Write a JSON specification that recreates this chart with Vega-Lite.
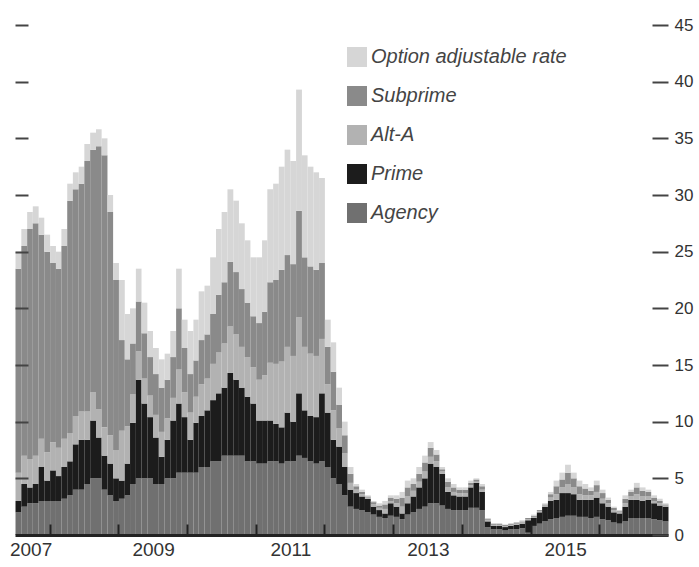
{
 "$schema": "https://vega.github.io/schema/vega-lite/v6.json",
 "width": 653, "height": 510,
 "autosize": {"type": "none"},
 "padding": {"left": 15, "top": 25, "right": 31, "bottom": 32},
 "background": "white",
 "config": {"view": {"stroke": null}, "font": "Liberation Sans"},
 "data": {"values": [
  {"date":"2007-07-01","Agency":2,"Prime":1,"Alt-A":2.5,"Subprime":18,"Option adjustable rate":1.5},
  {"date":"2007-08-01","Agency":2.5,"Prime":2,"Alt-A":2.5,"Subprime":18.5,"Option adjustable rate":1.5},
  {"date":"2007-09-01","Agency":2.8,"Prime":1.4,"Alt-A":2.5,"Subprime":20.3,"Option adjustable rate":1.5},
  {"date":"2007-10-01","Agency":2.8,"Prime":1.7,"Alt-A":2.5,"Subprime":20.5,"Option adjustable rate":1.5},
  {"date":"2007-11-01","Agency":3,"Prime":3,"Alt-A":2.5,"Subprime":18,"Option adjustable rate":1.5},
  {"date":"2007-12-01","Agency":3,"Prime":1.8,"Alt-A":2.5,"Subprime":17.7,"Option adjustable rate":1.5},
  {"date":"2008-01-01","Agency":3,"Prime":2.7,"Alt-A":2.5,"Subprime":15.8,"Option adjustable rate":1.5},
  {"date":"2008-02-01","Agency":3,"Prime":2.2,"Alt-A":2.5,"Subprime":15.8,"Option adjustable rate":1.5},
  {"date":"2008-03-01","Agency":3.2,"Prime":2.8,"Alt-A":2.5,"Subprime":17,"Option adjustable rate":1.5},
  {"date":"2008-04-01","Agency":3.5,"Prime":3,"Alt-A":2.5,"Subprime":20.5,"Option adjustable rate":1.5},
  {"date":"2008-05-01","Agency":4,"Prime":4,"Alt-A":2.5,"Subprime":20,"Option adjustable rate":1.5},
  {"date":"2008-06-01","Agency":4,"Prime":4.4,"Alt-A":2.5,"Subprime":20.1,"Option adjustable rate":1.5},
  {"date":"2008-07-01","Agency":4.5,"Prime":3.9,"Alt-A":2.5,"Subprime":22.1,"Option adjustable rate":1.5},
  {"date":"2008-08-01","Agency":5,"Prime":5.1,"Alt-A":2.5,"Subprime":21.4,"Option adjustable rate":1.5},
  {"date":"2008-09-01","Agency":5,"Prime":3.6,"Alt-A":2.5,"Subprime":23.2,"Option adjustable rate":1.5},
  {"date":"2008-10-01","Agency":4,"Prime":3,"Alt-A":2.5,"Subprime":24,"Option adjustable rate":1.5},
  {"date":"2008-11-01","Agency":3.5,"Prime":2.8,"Alt-A":2.5,"Subprime":19.7,"Option adjustable rate":1.5},
  {"date":"2008-12-01","Agency":3,"Prime":2,"Alt-A":2.5,"Subprime":15,"Option adjustable rate":1.5},
  {"date":"2009-01-01","Agency":3.2,"Prime":1.6,"Alt-A":4.4,"Subprime":8.0,"Option adjustable rate":5.3},
  {"date":"2009-02-01","Agency":3.5,"Prime":2.8,"Alt-A":3.3,"Subprime":5.9,"Option adjustable rate":4.0},
  {"date":"2009-03-01","Agency":4.5,"Prime":5.4,"Alt-A":2.5,"Subprime":4.5,"Option adjustable rate":3.1},
  {"date":"2009-04-01","Agency":5,"Prime":8.7,"Alt-A":2.5,"Subprime":4.4,"Option adjustable rate":2.9},
  {"date":"2009-05-01","Agency":5,"Prime":6.6,"Alt-A":2.2,"Subprime":4.0,"Option adjustable rate":2.7},
  {"date":"2009-06-01","Agency":5,"Prime":5.4,"Alt-A":1.9,"Subprime":3.4,"Option adjustable rate":2.3},
  {"date":"2009-07-01","Agency":4.5,"Prime":4.1,"Alt-A":2.0,"Subprime":3.6,"Option adjustable rate":2.3},
  {"date":"2009-08-01","Agency":4.5,"Prime":2.4,"Alt-A":2.2,"Subprime":3.9,"Option adjustable rate":2.5},
  {"date":"2009-09-01","Agency":5,"Prime":3.4,"Alt-A":1.9,"Subprime":3.4,"Option adjustable rate":2.3},
  {"date":"2009-10-01","Agency":5,"Prime":5.1,"Alt-A":2.0,"Subprime":3.6,"Option adjustable rate":2.3},
  {"date":"2009-11-01","Agency":5.5,"Prime":6.1,"Alt-A":3.0,"Subprime":5.4,"Option adjustable rate":3.5},
  {"date":"2009-12-01","Agency":5.5,"Prime":4.9,"Alt-A":2.2,"Subprime":3.9,"Option adjustable rate":2.5},
  {"date":"2010-01-01","Agency":5.5,"Prime":2.9,"Alt-A":2.4,"Subprime":3.4,"Option adjustable rate":3.8},
  {"date":"2010-02-01","Agency":5.5,"Prime":4.4,"Alt-A":2.3,"Subprime":3.2,"Option adjustable rate":3.6},
  {"date":"2010-03-01","Agency":6,"Prime":4.5,"Alt-A":2.8,"Subprime":3.9,"Option adjustable rate":4.3},
  {"date":"2010-04-01","Agency":6,"Prime":5,"Alt-A":2.8,"Subprime":3.9,"Option adjustable rate":4.3},
  {"date":"2010-05-01","Agency":6.5,"Prime":5.4,"Alt-A":3.2,"Subprime":4.4,"Option adjustable rate":5.0},
  {"date":"2010-06-01","Agency":6.5,"Prime":6,"Alt-A":3.6,"Subprime":5.1,"Option adjustable rate":5.8},
  {"date":"2010-07-01","Agency":7,"Prime":6,"Alt-A":3.9,"Subprime":5.4,"Option adjustable rate":6.2},
  {"date":"2010-08-01","Agency":7,"Prime":7.3,"Alt-A":4.1,"Subprime":5.7,"Option adjustable rate":6.4},
  {"date":"2010-09-01","Agency":7,"Prime":6.7,"Alt-A":4.0,"Subprime":5.5,"Option adjustable rate":6.3},
  {"date":"2010-10-01","Agency":7,"Prime":6,"Alt-A":3.6,"Subprime":5.1,"Option adjustable rate":5.8},
  {"date":"2010-11-01","Agency":6.5,"Prime":5.7,"Alt-A":3.5,"Subprime":4.8,"Option adjustable rate":5.5},
  {"date":"2010-12-01","Agency":6.5,"Prime":5.1,"Alt-A":3.2,"Subprime":4.5,"Option adjustable rate":5.2},
  {"date":"2011-01-01","Agency":6.3,"Prime":3.8,"Alt-A":3.6,"Subprime":5.0,"Option adjustable rate":5.8},
  {"date":"2011-02-01","Agency":6.3,"Prime":3.8,"Alt-A":4.0,"Subprime":5.6,"Option adjustable rate":6.3},
  {"date":"2011-03-01","Agency":6.5,"Prime":3.6,"Alt-A":5.1,"Subprime":7.1,"Option adjustable rate":8.2},
  {"date":"2011-04-01","Agency":6.5,"Prime":3.3,"Alt-A":5.3,"Subprime":7.4,"Option adjustable rate":8.5},
  {"date":"2011-05-01","Agency":6.3,"Prime":3.2,"Alt-A":5.8,"Subprime":8.1,"Option adjustable rate":9.1},
  {"date":"2011-06-01","Agency":6.5,"Prime":4.3,"Alt-A":5.8,"Subprime":8.1,"Option adjustable rate":9.3},
  {"date":"2011-07-01","Agency":6.5,"Prime":3.5,"Alt-A":5.8,"Subprime":8.1,"Option adjustable rate":9.1},
  {"date":"2011-08-01","Agency":7,"Prime":5.5,"Alt-A":6.7,"Subprime":9.4,"Option adjustable rate":10.7},
  {"date":"2011-09-01","Agency":6.8,"Prime":4.2,"Alt-A":5.6,"Subprime":7.9,"Option adjustable rate":9.0},
  {"date":"2011-10-01","Agency":6.5,"Prime":4,"Alt-A":5.5,"Subprime":7.7,"Option adjustable rate":8.8},
  {"date":"2011-11-01","Agency":6.3,"Prime":4.1,"Alt-A":5.4,"Subprime":7.6,"Option adjustable rate":8.6},
  {"date":"2011-12-01","Agency":6.5,"Prime":6,"Alt-A":4.8,"Subprime":6.7,"Option adjustable rate":7.5},
  {"date":"2012-01-01","Agency":6,"Prime":4.8,"Alt-A":2.5,"Subprime":3.3,"Option adjustable rate":2.4},
  {"date":"2012-02-01","Agency":5,"Prime":3.4,"Alt-A":2.6,"Subprime":3.4,"Option adjustable rate":2.6},
  {"date":"2012-03-01","Agency":4.5,"Prime":3.3,"Alt-A":1.6,"Subprime":2.1,"Option adjustable rate":1.5},
  {"date":"2012-04-01","Agency":3.5,"Prime":2.5,"Alt-A":1.2,"Subprime":1.6,"Option adjustable rate":1.2},
  {"date":"2012-05-01","Agency":2.5,"Prime":1.5,"Alt-A":0.6,"Subprime":0.8,"Option adjustable rate":0.6},
  {"date":"2012-06-01","Agency":2.3,"Prime":1.4,"Alt-A":0.3,"Subprime":0.3,"Option adjustable rate":0.2},
  {"date":"2012-07-01","Agency":2.2,"Prime":1.2,"Alt-A":0.2,"Subprime":0.2,"Option adjustable rate":0.2},
  {"date":"2012-08-01","Agency":2,"Prime":1.2,"Alt-A":0.1,"Subprime":0.1,"Option adjustable rate":0.1},
  {"date":"2012-09-01","Agency":1.8,"Prime":0.7,"Alt-A":0.2,"Subprime":0.2,"Option adjustable rate":0.1},
  {"date":"2012-10-01","Agency":1.6,"Prime":0.6,"Alt-A":0.2,"Subprime":0.2,"Option adjustable rate":0.2},
  {"date":"2012-11-01","Agency":1.5,"Prime":0.4,"Alt-A":0.4,"Subprime":0.4,"Option adjustable rate":0.3},
  {"date":"2012-12-01","Agency":1.7,"Prime":1.1,"Alt-A":0.2,"Subprime":0.3,"Option adjustable rate":0.2},
  {"date":"2013-01-01","Agency":1.6,"Prime":0.9,"Alt-A":0.3,"Subprime":0.4,"Option adjustable rate":0.3},
  {"date":"2013-02-01","Agency":1.4,"Prime":0.5,"Alt-A":0.6,"Subprime":0.8,"Option adjustable rate":0.5},
  {"date":"2013-03-01","Agency":1.8,"Prime":1.0,"Alt-A":0.6,"Subprime":0.8,"Option adjustable rate":0.6},
  {"date":"2013-04-01","Agency":2,"Prime":1.4,"Alt-A":0.5,"Subprime":0.6,"Option adjustable rate":0.5},
  {"date":"2013-05-01","Agency":2.3,"Prime":1.9,"Alt-A":0.5,"Subprime":0.7,"Option adjustable rate":0.6},
  {"date":"2013-06-01","Agency":2.5,"Prime":2.5,"Alt-A":0.6,"Subprime":0.8,"Option adjustable rate":0.6},
  {"date":"2013-07-01","Agency":2.8,"Prime":3.5,"Alt-A":0.6,"Subprime":0.8,"Option adjustable rate":0.5},
  {"date":"2013-08-01","Agency":2.8,"Prime":3.2,"Alt-A":0.5,"Subprime":0.6,"Option adjustable rate":0.4},
  {"date":"2013-09-01","Agency":2.6,"Prime":2.8,"Alt-A":0.2,"Subprime":0.2,"Option adjustable rate":0.2},
  {"date":"2013-10-01","Agency":2.3,"Prime":1.5,"Alt-A":0.4,"Subprime":0.5,"Option adjustable rate":0.3},
  {"date":"2013-11-01","Agency":2.2,"Prime":1.3,"Alt-A":0.3,"Subprime":0.4,"Option adjustable rate":0.3},
  {"date":"2013-12-01","Agency":2.2,"Prime":1.2,"Alt-A":0.3,"Subprime":0.3,"Option adjustable rate":0.2},
  {"date":"2014-01-01","Agency":2.2,"Prime":1.2,"Alt-A":0.3,"Subprime":0.3,"Option adjustable rate":0.2},
  {"date":"2014-02-01","Agency":2.4,"Prime":1.8,"Alt-A":0.2,"Subprime":0.2,"Option adjustable rate":0.2},
  {"date":"2014-03-01","Agency":2.4,"Prime":2.2,"Alt-A":0.1,"Subprime":0.2,"Option adjustable rate":0.1},
  {"date":"2014-04-01","Agency":2.2,"Prime":1.6,"Alt-A":0.2,"Subprime":0.3,"Option adjustable rate":0.2},
  {"date":"2014-05-01","Agency":0.7,"Prime":0.5,"Alt-A":0.1,"Subprime":0.1,"Option adjustable rate":0.1},
  {"date":"2014-06-01","Agency":0.5,"Prime":0.3,"Alt-A":0.1,"Subprime":0.1,"Option adjustable rate":0},
  {"date":"2014-07-01","Agency":0.5,"Prime":0.3,"Alt-A":0.1,"Subprime":0.1,"Option adjustable rate":0},
  {"date":"2014-08-01","Agency":0.4,"Prime":0.3,"Alt-A":0.1,"Subprime":0.1,"Option adjustable rate":0},
  {"date":"2014-09-01","Agency":0.5,"Prime":0.3,"Alt-A":0.1,"Subprime":0.1,"Option adjustable rate":0},
  {"date":"2014-10-01","Agency":0.5,"Prime":0.4,"Alt-A":0.1,"Subprime":0.1,"Option adjustable rate":0},
  {"date":"2014-11-01","Agency":0.6,"Prime":0.4,"Alt-A":0.1,"Subprime":0.1,"Option adjustable rate":0.1},
  {"date":"2014-12-01","Agency":0.2,"Prime":1.1,"Alt-A":0.1,"Subprime":0.1,"Option adjustable rate":0},
  {"date":"2015-01-01","Agency":0.8,"Prime":0.7,"Alt-A":0.1,"Subprime":0.1,"Option adjustable rate":0.1},
  {"date":"2015-02-01","Agency":1.0,"Prime":1.0,"Alt-A":0.1,"Subprime":0.1,"Option adjustable rate":0},
  {"date":"2015-03-01","Agency":1.2,"Prime":1.3,"Alt-A":0.1,"Subprime":0.1,"Option adjustable rate":0.1},
  {"date":"2015-04-01","Agency":1.4,"Prime":1.6,"Alt-A":0.3,"Subprime":0.3,"Option adjustable rate":0.2},
  {"date":"2015-05-01","Agency":1.5,"Prime":1.6,"Alt-A":0.5,"Subprime":0.7,"Option adjustable rate":0.5},
  {"date":"2015-06-01","Agency":1.6,"Prime":2.1,"Alt-A":0.5,"Subprime":0.7,"Option adjustable rate":0.6},
  {"date":"2015-07-01","Agency":1.7,"Prime":2.0,"Alt-A":0.8,"Subprime":1.0,"Option adjustable rate":0.7},
  {"date":"2015-08-01","Agency":1.7,"Prime":1.9,"Alt-A":0.6,"Subprime":0.8,"Option adjustable rate":0.5},
  {"date":"2015-09-01","Agency":1.6,"Prime":1.5,"Alt-A":0.5,"Subprime":0.7,"Option adjustable rate":0.5},
  {"date":"2015-10-01","Agency":1.6,"Prime":1.5,"Alt-A":0.4,"Subprime":0.6,"Option adjustable rate":0.4},
  {"date":"2015-11-01","Agency":1.5,"Prime":1.6,"Alt-A":0.4,"Subprime":0.4,"Option adjustable rate":0.3},
  {"date":"2015-12-01","Agency":1.6,"Prime":1.7,"Alt-A":0.5,"Subprime":0.6,"Option adjustable rate":0.4},
  {"date":"2016-01-01","Agency":1.4,"Prime":1.4,"Alt-A":0.4,"Subprime":0.5,"Option adjustable rate":0.3},
  {"date":"2016-02-01","Agency":1.3,"Prime":1.2,"Alt-A":0.3,"Subprime":0.3,"Option adjustable rate":0.2},
  {"date":"2016-03-01","Agency":1.1,"Prime":0.9,"Alt-A":0.2,"Subprime":0.2,"Option adjustable rate":0.1},
  {"date":"2016-04-01","Agency":1.0,"Prime":0.9,"Alt-A":0.1,"Subprime":0.1,"Option adjustable rate":0.1},
  {"date":"2016-05-01","Agency":1.2,"Prime":1.3,"Alt-A":0.3,"Subprime":0.4,"Option adjustable rate":0.3},
  {"date":"2016-06-01","Agency":1.5,"Prime":1.6,"Alt-A":0.3,"Subprime":0.4,"Option adjustable rate":0.2},
  {"date":"2016-07-01","Agency":1.5,"Prime":1.6,"Alt-A":0.5,"Subprime":0.6,"Option adjustable rate":0.4},
  {"date":"2016-08-01","Agency":1.5,"Prime":1.5,"Alt-A":0.4,"Subprime":0.5,"Option adjustable rate":0.3},
  {"date":"2016-09-01","Agency":1.5,"Prime":1.6,"Alt-A":0.3,"Subprime":0.4,"Option adjustable rate":0.2},
  {"date":"2016-10-01","Agency":1.4,"Prime":1.4,"Alt-A":0.2,"Subprime":0.3,"Option adjustable rate":0.2},
  {"date":"2016-11-01","Agency":1.3,"Prime":1.3,"Alt-A":0.2,"Subprime":0.2,"Option adjustable rate":0.2},
  {"date":"2016-12-01","Agency":1.2,"Prime":1.3,"Alt-A":0.1,"Subprime":0.1,"Option adjustable rate":0.1}
 ]},
 "transform": [
  {"fold": ["Agency", "Prime", "Alt-A", "Subprime", "Option adjustable rate"], "as": ["type", "value"]},
  {"calculate": "indexof(['Agency','Prime','Alt-A','Subprime','Option adjustable rate'], datum.type)", "as": "stackOrder"}
 ],
 "layer": [
  {
   "mark": {"type": "bar", "timeUnitBandSize": 1, "binSpacing": 0},
   "encoding": {
    "x": {
     "field": "date", "type": "temporal", "timeUnit": "utcyearmonth",
     "scale": {"type": "utc", "domain": [{"year": 2007, "month": 7, "date": 1, "utc": true}, {"year": 2017, "month": 1, "date": 1, "utc": true}]},
     "axis": {
      "orient": "bottom", "title": null, "grid": false, "zindex": 1,
      "values": [
       {"year": 2008, "month": 1, "date": 1, "utc": true},
       {"year": 2009, "month": 1, "date": 1, "utc": true},
       {"year": 2010, "month": 1, "date": 1, "utc": true},
       {"year": 2011, "month": 1, "date": 1, "utc": true},
       {"year": 2012, "month": 1, "date": 1, "utc": true},
       {"year": 2013, "month": 1, "date": 1, "utc": true},
       {"year": 2014, "month": 1, "date": 1, "utc": true},
       {"year": 2015, "month": 1, "date": 1, "utc": true},
       {"year": 2016, "month": 1, "date": 1, "utc": true}
      ],
      "domain": true, "domainColor": "#222", "domainWidth": 3,
      "ticks": true, "tickSize": -11, "tickWidth": 2, "tickColor": "#222",
      "labelExpr": "utcyear(datum.value) % 2 == 0 ? '' + (utcyear(datum.value) - 1) : ''",
      "labelOffset": {"condition": {"test": "utcyear(datum.value) == 2008", "value": -19}, "value": -34},
      "labelFontSize": 19, "labelColor": "#333", "labelPadding": 16,
      "labelOverlap": false, "labelBound": false, "labelFlush": false
     }
    },
    "y": {
     "field": "value", "type": "quantitative", "stack": "zero",
     "scale": {"domain": [0, 45], "nice": false},
     "axis": {
      "orient": "right", "title": null, "grid": false, "domain": false, "zindex": 1,
      "values": [0, 5, 10, 15, 20, 25, 30, 35, 40, 45],
      "tickSize": -16, "tickWidth": 2, "tickColor": "#444",
      "labelFontSize": 17, "labelColor": "#333", "labelPadding": 22
     }
    },
    "color": {
     "field": "type", "type": "nominal",
     "scale": {
      "domain": ["Option adjustable rate", "Subprime", "Alt-A", "Prime", "Agency"],
      "range": ["#d6d6d6", "#8a8a8a", "#b2b2b2", "#1c1c1c", "#707070"]
     },
     "legend": {
      "orient": "none", "legendX": 332, "legendY": 22, "title": null,
      "symbolType": "square", "symbolSize": 400, "symbolStrokeWidth": 0,
      "labelFontSize": 20, "labelFontStyle": "italic", "labelColor": "#444",
      "labelLimit": 0, "rowPadding": 19, "labelOffset": 4, "padding": 0
     }
    },
    "order": {"field": "stackOrder", "type": "quantitative", "sort": "ascending"}
   }
  },
  {
   "mark": {"type": "point", "opacity": 0},
   "encoding": {
    "x": {"field": "date", "type": "temporal", "timeUnit": "utcyearmonth"},
    "y": {
     "field": "value", "type": "quantitative",
     "axis": {
      "orient": "left", "title": null, "grid": false, "domain": false, "labels": false, "zindex": 1,
      "values": [5, 10, 15, 20, 25, 30, 35, 40, 45],
      "tickSize": -13, "tickWidth": 2, "tickColor": "#444"
     }
    }
   }
  }
 ],
 "resolve": {"axis": {"y": "independent"}}
}
